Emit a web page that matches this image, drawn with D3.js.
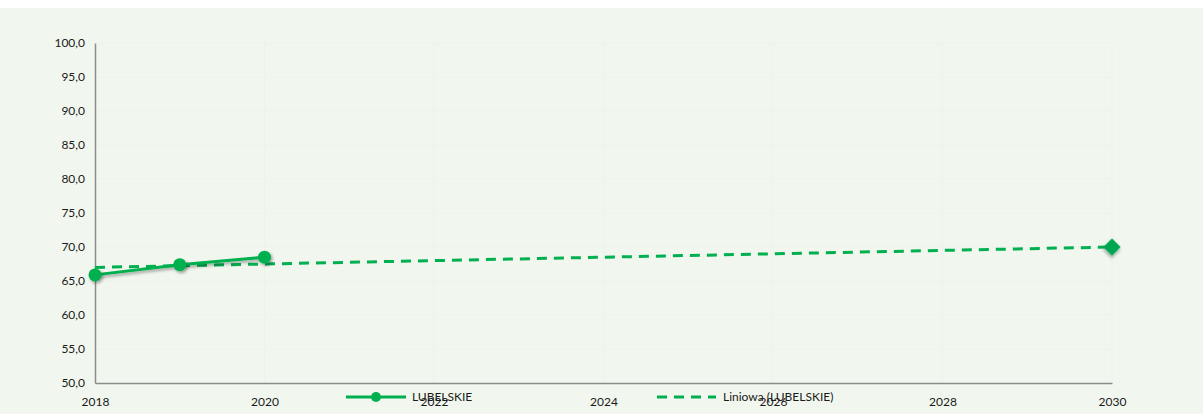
<!DOCTYPE html>
<html>
<head>
<meta charset="utf-8">
<script src="https://cdn.jsdelivr.net/npm/d3@7"></script>
<style>
  body { margin: 0; background: #ffffff; }
  text { font-family: Lato, "Open Sans", sans-serif; fill: #1a1a1a; }
</style>
</head>
<body>
<div id="container"></div>
<script>
const W = 1203, H = 414;
var margin = {top: 43, right: 91, bottom: 31, left: 95};
var width = W - margin.left - margin.right;
var height = H - margin.top - margin.bottom;

// data
var years = [2018, 2019, 2020];
var values = [65.9, 67.4, 68.5];
var trendYears = [2018, 2030];
var trendValues = [67.0, 70.0];
var targetYear = 2030;
var targetValue = 70.0;
var xTicks = [2018, 2020, 2022, 2024, 2026, 2028, 2030];
var yTicks = [50, 55, 60, 65, 70, 75, 80, 85, 90, 95, 100];
var seriesName = "LUBELSKIE";
var trendName = "Liniowa (LUBELSKIE)";

var green = "#00b050";
var fmt = d3.format(".1f");
var font = "Lato, 'Open Sans', sans-serif";

var svg = d3.select("#container").append("svg")
	.attr("width", W)
	.attr("height", H);

var defs = svg.append("defs");
var f = defs.append("filter").attr("id", "shadow")
	.attr("x", "-50%").attr("y", "-50%").attr("width", "200%").attr("height", "200%");
f.append("feDropShadow")
	.attr("dx", 1.5).attr("dy", 2).attr("stdDeviation", 1.6)
	.attr("flood-color", "#000").attr("flood-opacity", 0.35);

// chart background
svg.append("rect")
	.attr("x", 0).attr("y", 8)
	.attr("width", W).attr("height", H - 8)
	.attr("fill", "#f1f7ee");

var g = svg.append("g")
	.attr("transform", "translate(" + margin.left + "," + margin.top + ")");

var x = d3.scaleLinear().domain([2018, 2030]).range([0, width]);
var y = d3.scaleLinear().domain([50, 100]).range([height, 0]);

// faint gridlines
g.append("g").selectAll("line")
	.data(yTicks.slice(1))
	.enter().append("line")
	.attr("x1", 0).attr("x2", width)
	.attr("y1", d => y(d)).attr("y2", d => y(d))
	.attr("stroke", "#ecf3e9").attr("stroke-width", 1);
g.append("g").selectAll("line")
	.data(xTicks.slice(1))
	.enter().append("line")
	.attr("x1", d => x(d)).attr("x2", d => x(d))
	.attr("y1", 0).attr("y2", height)
	.attr("stroke", "#ecf3e9").attr("stroke-width", 1);

// axes
var yAxis = d3.axisLeft(y).tickValues(yTicks).tickSize(0).tickPadding(10)
	.tickFormat(d => fmt(d).replace(".", ","));
var gy = g.append("g").call(yAxis);
gy.select(".domain").attr("stroke", "#8c8c8c").attr("stroke-width", 1.5);
gy.selectAll("text").style("font-size", "12px").style("font-family", font).attr("fill", "#1a1a1a");

var xAxis = d3.axisBottom(x).tickValues(xTicks).tickSize(0).tickPadding(14)
	.tickFormat(d3.format("d"));
var gx = g.append("g").attr("transform", "translate(0," + height + ")").call(xAxis);
gx.select(".domain").attr("stroke", "#8c8c8c").attr("stroke-width", 1.5);
gx.selectAll("text").style("font-size", "12px").style("font-family", font).attr("fill", "#1a1a1a");

// trend line
var line = d3.line().x(d => x(d[0])).y(d => y(d[1]));
g.append("path")
	.attr("d", line(d3.zip(trendYears, trendValues)))
	.attr("fill", "none")
	.attr("stroke", green)
	.attr("stroke-width", 3)
	.attr("stroke-dasharray", "10 7");

// series
g.append("path")
	.attr("d", line(d3.zip(years, values)))
	.attr("fill", "none")
	.attr("stroke", green)
	.attr("stroke-width", 3)
	.attr("filter", "url(#shadow)");

g.selectAll("circle.pt")
	.data(d3.zip(years, values))
	.enter().append("circle")
	.attr("class", "pt")
	.attr("cx", d => x(d[0]))
	.attr("cy", d => y(d[1]))
	.attr("r", 6.5)
	.attr("fill", green)
	.attr("filter", "url(#shadow)");

// target diamond
g.append("path")
	.attr("d", d3.symbol(d3.symbolSquare, 150)())
	.attr("transform", "translate(" + x(targetYear) + "," + y(targetValue) + ") rotate(45)")
	.attr("fill", "#00a651")
	.attr("filter", "url(#shadow)");

// legend
var leg = svg.append("g").attr("transform", "translate(0,397)");
leg.append("line").attr("x1", 346).attr("x2", 406).attr("y1", 0).attr("y2", 0)
	.attr("stroke", green).attr("stroke-width", 3);
leg.append("circle").attr("cx", 376).attr("cy", 0).attr("r", 5).attr("fill", green);
leg.append("text").attr("x", 412).attr("y", 4).style("font-size", "12px").text(seriesName);

leg.append("line").attr("x1", 657).attr("x2", 716).attr("y1", 0).attr("y2", 0)
	.attr("stroke", green).attr("stroke-width", 3).attr("stroke-dasharray", "10 7");
leg.append("text").attr("x", 723).attr("y", 4).style("font-size", "12px").text(trendName);
</script>
</body>
</html>
